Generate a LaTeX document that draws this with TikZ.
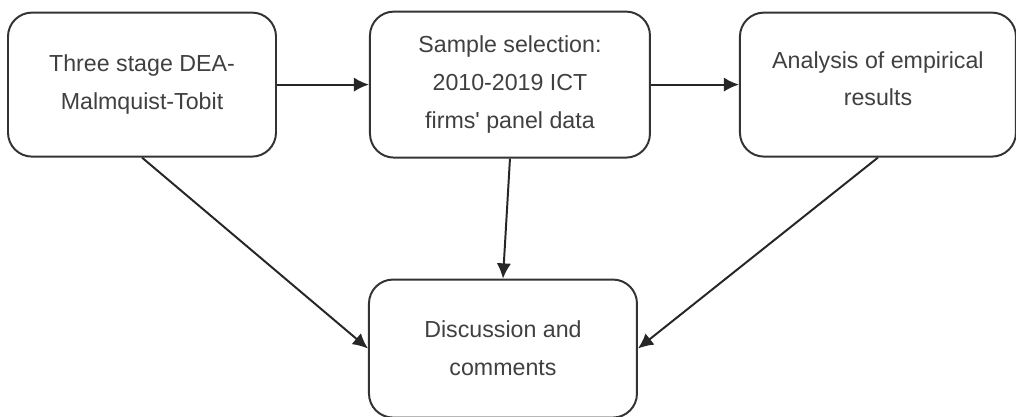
\documentclass[tikz,border=0pt]{standalone}
\usepackage{fontspec}
\setmainfont{Liberation Sans}
\usepackage{tikz}
\usetikzlibrary{positioning,arrows.meta}

\begin{document}
\begin{tikzpicture}[node distance=23mm, every node/.style={font=\fontsize{16.5}{27}\selectfont, text=black!75}, box/.style={draw=black!80, line width=1.4pt, rounded corners=6mm, minimum width=67mm, minimum height=36mm, align=center}, arr/.style={-{Latex[length=3.8mm,width=3.6mm]}, line width=1.4pt, black!85}]
\useasboundingbox (0,0) rectangle (25.4,10.425);
\node[box] (method) at (3.55,8.31) {Three stage DEA-\\Malmquist-Tobit};
\node[box, minimum width=70mm, minimum height=36.5mm, right=23mm of method] (sample) {Sample selection:\\2010-2019 ICT\\firms{\textquotesingle} panel data};
\node[box, minimum width=69mm, right=22mm of sample] (analysis) {Analysis of empirical\\results\rule[-3mm]{0pt}{0pt}};
\node[box, minimum height=34.5mm, below=30mm of sample, xshift=-1.75mm] (discuss) {Discussion and\\comments};
\draw[arr] (method)--(sample); \draw[arr] (sample)--(analysis); \draw[arr] (sample.south)--(discuss.north); \draw[arr] (method.south)--(discuss.west); \draw[arr] (analysis.south)--(discuss.east);
\end{tikzpicture}
\end{document}
